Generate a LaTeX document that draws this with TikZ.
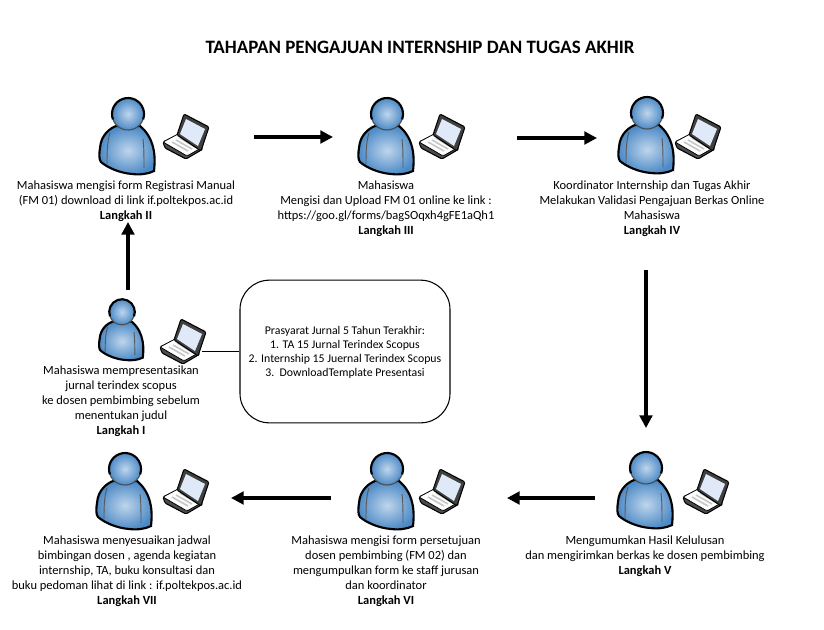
\documentclass[tikz,border=0pt]{standalone}
\usepackage{fontspec}
\setmainfont{Carlito}
\usetikzlibrary{arrows.meta,positioning}
\definecolor{userlight}{HTML}{BFD5EC}
\definecolor{userdark}{HTML}{4C8AC6}
\definecolor{screenblue}{HTML}{DFE9F8}
\tikzset{
    >={Triangle[length=9.5pt,width=9.5pt]},
    flow/.style={->, line width=2.3pt},
    caption/.style={
        align=center,
        anchor=north,
        inner sep=0pt,
        font=\fontsize{9.35}{11.25}\selectfont
    },
    notebox/.style={
        rectangle,
        rounded corners=22pt,
        draw=black, thick,
        minimum width=157.5pt,
        minimum height=107pt
    },
    user/.pic={
        \shadedraw[inner color=userlight, outer color=userdark, draw=black, line width=1.6pt]
            (-12,12) .. controls (-17,14) and (-27,20) .. (-28,34)
            .. controls (-29,40) and (-29,46) .. (-27,48)
            .. controls (-20,54) and (-8,59) .. (4,60)
            .. controls (12,61) and (20,60) .. (26,57)
            .. controls (27,48) and (29,26) .. (12,12) -- cycle;
        \draw[gray!70!black, line width=.7pt] (-18,19) .. controls (-21,28) and (-21,40) .. (-21,50);
        \draw[gray!70!black, line width=.7pt] (15,25) .. controls (16,33) and (16,42) .. (16,54);
        \shade[inner color=userlight, outer color=userdark] (0,0) circle (16);
        \draw[gray!60!black, line width=.8pt] (0,0) ++(20:16) arc[start angle=20, end angle=160, radius=16];
        \draw[black, line width=1.6pt] (0,0) ++(160:16) arc[start angle=160, end angle=380, radius=16];
    },
    laptop/.pic={
        \filldraw[fill=black!70, draw=black, line width=.8pt, rounded corners=1pt]
            (0,28) -- (2,34) -- (23,45) -- (40,35) -- (15,21) -- cycle;
        \filldraw[fill=white, draw=black, line width=.6pt, rounded corners=1pt]
            (0,28) -- (15,20) -- (40,33) -- (24,42) -- cycle;
        \draw[gray!45, line width=1.2pt] (9,28) -- (25,37) (13,26) -- (29,35) (17,24) -- (32,33);
        \filldraw[fill=black!75, draw=black, line width=.8pt, rounded corners=1pt]
            (21,0) -- (46,13) -- (38,37) -- (14,21) -- cycle;
        \fill[screenblue] (23,5) -- (42,15) -- (35,32) -- (17,20) -- cycle;
        \coordinate (-port) at (42,32.5);
    }
}
\begin{document}
\begin{tikzpicture}[x=.75pt, y=-.75pt]
    \useasboundingbox (0,0) rectangle (824,629);

    \node[font=\bfseries\fontsize{14.2}{16}\selectfont] (title) at (420,47)
        {TAHAPAN PENGAJUAN INTERNSHIP DAN TUGAS AKHIR};

    % top row
    \pic at (128,114) {user};
    \pic at (163,114) {laptop};
    \pic at (387,114) {user};
    \pic at (419,114) {laptop};
    \pic at (647,113) {user};
    \pic at (675,114) {laptop};

    % middle
    \pic[scale=.8] at (122,312) {user};
    \pic (lapI) at (160,319) {laptop};

    % bottom row
    \pic at (125,469) {user};
    \pic at (163,469) {laptop};
    \pic at (387,469) {user};
    \pic at (419,469) {laptop};
    \pic at (646,468) {user};
    \pic at (683,469) {laptop};

    \node[caption] (stepII) at (126,181) {Mahasiswa mengisi form Registrasi Manual\\(FM 01) download di link if.poltekpos.ac.id\\\textbf{Langkah II}};
    \node[caption] (stepIII) at (386,181) {Mahasiswa\\Mengisi dan Upload FM 01 online ke link :\\https://goo.gl/forms/bagSOqxh4gFE1aQh1\\\textbf{Langkah III}};
    \node[caption] (stepIV) at (652,181) {Koordinator Internship dan Tugas Akhir\\Melakukan Validasi Pengajuan Berkas Online\\Mahasiswa\\\textbf{Langkah IV}};
    \node[caption] (stepI) at (121,366) {Mahasiswa mempresentasikan\\jurnal terindex scopus\\ke dosen pembimbing sebelum\\menentukan judul\\\textbf{Langkah I}};
    \node[caption] (stepV) at (645,536) {Mengumumkan Hasil Kelulusan\\dan mengirimkan berkas ke dosen pembimbing\\\textbf{Langkah V}};
    \node[caption] (stepVI) at (386,536) {Mahasiswa mengisi form persetujuan\\dosen pembimbing (FM 02) dan\\mengumpulkan form ke staff jurusan\\dan koordinator\\\textbf{Langkah VI}};
    \node[caption] (stepVII) at (127,536) {Mahasiswa menyesuaikan jadwal\\bimbingan dosen , agenda kegiatan\\internship, TA, buku konsultasi dan\\buku pedoman lihat di link : if.poltekpos.ac.id\\\textbf{Langkah VII}};

    \node[notebox] (syarat) at (345,351.5) {};
    \node[caption, font=\fontsize{8.85}{10.5}\selectfont] (syarattext) at (345,326) {Prasyarat Jurnal 5 Tahun Terakhir:\\1. TA 15 Jurnal Terindex Scopus\\2. Internship 15 Juernal Terindex Scopus\\3.\ \ DownloadTemplate Presentasi};

    \coordinate (a1) at (254,137);
    \coordinate (a2) at (333,137);
    \coordinate (b1) at (517,138);
    \coordinate (b2) at (597,138);
    \coordinate (c1) at (646,270);
    \coordinate (c2) at (646,428);
    \coordinate (d1) at (595,498);
    \coordinate (d2) at (507,498);
    \coordinate (e1) at (331,498);
    \coordinate (e2) at (231,498);
    \coordinate (f1) at (128,290);
    \coordinate (f2) at (128,222);

    \draw[flow] (a1) -- (a2);
    \draw[flow] (b1) -- (b2);
    \draw[flow] (c1) -- (c2);
    \draw[flow] (d1) -- (d2);
    \draw[flow] (e1) -- (e2);
    \draw[flow] (f1) -- (f2);
    \draw[line width=.75pt] (lapI-port) -- (syarat.west);
\end{tikzpicture}
\end{document}
